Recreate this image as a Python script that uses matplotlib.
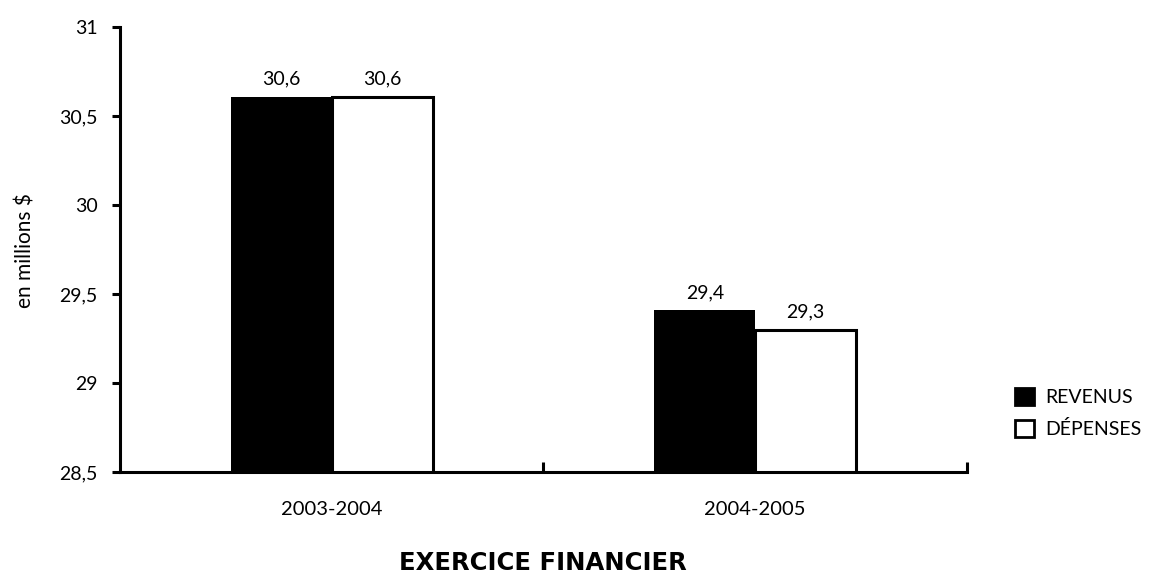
import matplotlib
matplotlib.use("Agg")
import matplotlib.pyplot as plt
import numpy as np
from matplotlib.patches import Patch

# ── données ──────────────────────────────────────────────
exercices = ["2003-2004", "2004-2005"]
revenus = [30.61, 29.41]
depenses = [30.61, 29.30]
etiquettes_rev = ["30,6", "29,4"]
etiquettes_dep = ["30,6", "29,3"]
y_ticks = [28.5, 29, 29.5, 30, 30.5, 31]
y_labels = ["28,5", "29", "29,5", "30", "30,5", "31"]

plt.rcParams.update({
    "font.family": ["Lato", "DejaVu Sans"],
    "font.size": 14,
    "text.color": "black",
})

fig = plt.figure(figsize=(11.55, 5.77), dpi=100)
ax = fig.add_axes([0.1039, 0.182, 0.7333, 0.771])

x = np.arange(len(exercices))
w = 0.238
b1 = ax.bar(x - w / 2, revenus, w, color="black", edgecolor="black", linewidth=0)
b2 = ax.bar(x + w / 2, depenses, w, color="white", edgecolor="black", linewidth=2.2)

for bar, lab in zip(b1, etiquettes_rev):
    ax.text(bar.get_x() + bar.get_width() / 2, bar.get_height() + 0.05, lab,
            ha="center", va="bottom", fontsize=14)
for bar, lab in zip(b2, etiquettes_dep):
    ax.text(bar.get_x() + bar.get_width() / 2, bar.get_height() + 0.05, lab,
            ha="center", va="bottom", fontsize=14)

ax.set_xlim(-0.5, 1.5)
ax.set_ylim(28.5, 31)
ax.set_yticks(y_ticks)
ax.set_yticklabels(y_labels, fontsize=14)
ax.set_xticks(x)
ax.set_xticklabels(exercices, fontsize=14.5)
ax.set_xticks([0.5, 1.5], minor=True)
ax.tick_params(axis="x", which="major", length=0, pad=21)
ax.tick_params(axis="x", which="minor", direction="in", length=7, width=2.2)
ax.tick_params(axis="y", direction="out", length=6, width=2.2, pad=10)

for s in ["top", "right"]:
    ax.spines[s].set_visible(False)
for s in ["left", "bottom"]:
    ax.spines[s].set_linewidth(2.2)

fig.text(0.022, 0.565, "en millions $", rotation=90, ha="center", va="center", fontsize=15)
fig.text(0.470, 0.004, "EXERCICE FINANCIER", ha="center", va="bottom",
         fontsize=17.5, fontweight="bold", family="DejaVu Sans")

handles = [Patch(facecolor="black", edgecolor="black", linewidth=2, label="REVENUS"),
           Patch(facecolor="white", edgecolor="black", linewidth=2, label="DÉPENSES")]
fig.legend(handles=handles, loc="center left", bbox_to_anchor=(0.864, 0.284),
           frameon=False, handlelength=0.95, handleheight=0.95,
           handletextpad=0.6, labelspacing=0.7, prop={"size": 14})

fig.savefig("out.png", dpi=100)
